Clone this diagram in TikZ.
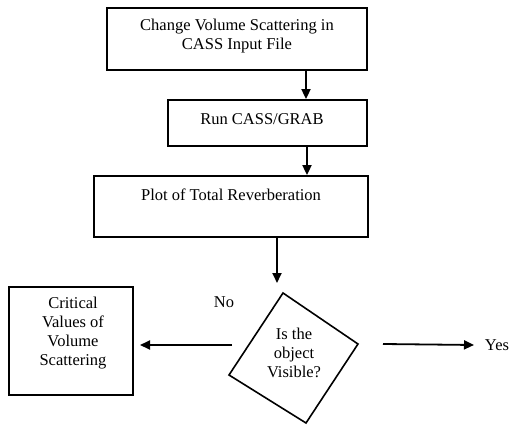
\documentclass[tikz,border=0pt]{standalone}
\usepackage{fontspec}
\setmainfont{Liberation Serif}
\usetikzlibrary{arrows.meta}
\begin{document}
\begin{tikzpicture}[x=1pt,y=-1pt,
  box/.style={draw,line width=1.8pt,align=center,inner sep=0pt},
  lbl/.style={font=\fontsize{16.5}{19}\selectfont,align=center,inner sep=0pt},
  conn/.style={line width=1.8pt,-{Triangle[length=10pt,width=9pt]}}]
\useasboundingbox (0,0) rectangle (515,428);
\node[box,minimum width=260pt,minimum height=62pt] (b1) at (237,39) {};
\node[lbl] (t1) at (237,36) {Change Volume Scattering in\\CASS Input File};
\node[box,minimum width=199pt,minimum height=46pt] (b2) at (267.5,123) {};
\node[lbl] (t2) at (262,119) {Run CASS/GRAB};
\node[box,minimum width=274pt,minimum height=61pt] (b3) at (231,206.5) {};
\node[lbl] (t3) at (231,195) {Plot of Total Reverberation};
\node[box,minimum width=124pt,minimum height=108pt] (b4) at (71,341) {};
\node[lbl] (t4) at (73,333) {Critical\\Values of\\Volume\\Scattering};
\coordinate (dT) at (283,293);
\coordinate (dR) at (358,344);
\coordinate (dB) at (306,423);
\coordinate (dL) at (229,375);
\draw[line width=1.6pt,line join=miter] (dT) -- (dR) -- (dB) -- (dL) -- cycle;
\node[lbl] (t5) at (294,353) {Is the\\object\\Visible?};
\node[lbl] (no) at (224,302) {No};
\node[lbl] (yes) at (497,345) {Yes};
\draw[conn] (b1.south -| 306,0) -- (b2.north -| 306,0);
\draw[conn] (b2.south -| 307,0) -- (b3.north -| 307,0);
\coordinate (a3e) at (277,283);
\draw[conn] (b3.south -| a3e) -- (a3e);
\coordinate (al) at (232,345);
\draw[conn] (al) -- (140,345);
\coordinate (ar) at (383,344);
\draw[conn] (ar) -- (yes.west -| 474,0) ;
\end{tikzpicture}
\end{document}
